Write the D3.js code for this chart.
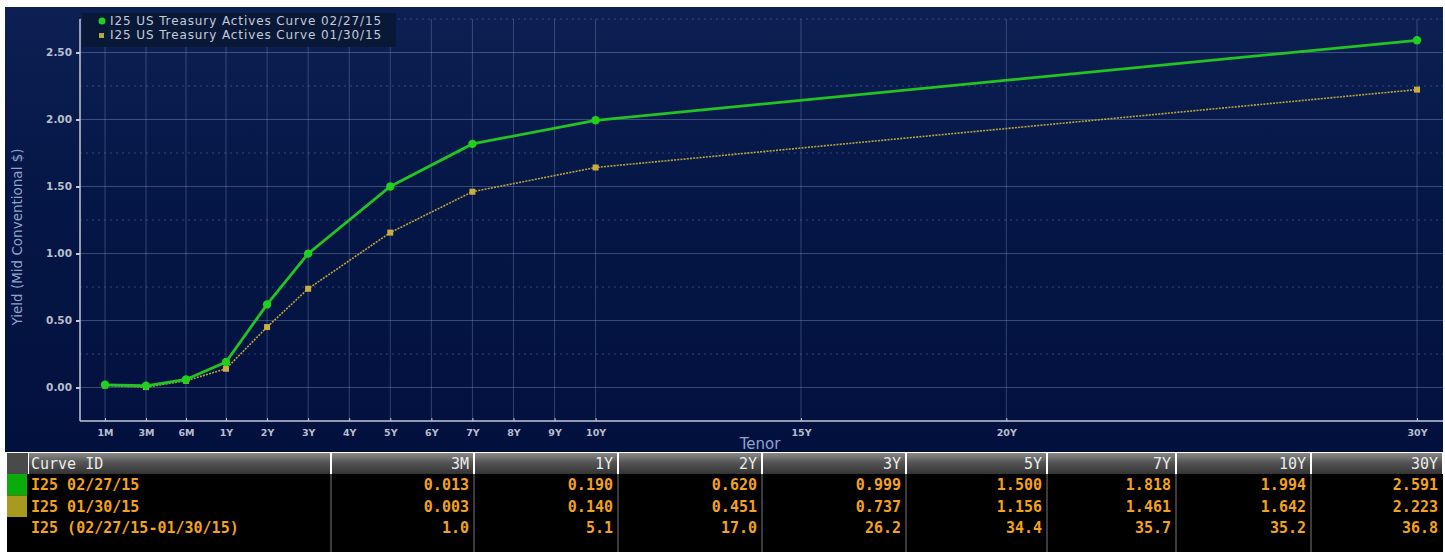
<!DOCTYPE html>
<html>
<head>
<meta charset="utf-8">
<script src="https://cdn.jsdelivr.net/npm/d3@7"></script>
<style>
body{margin:0;background:#fff;}
svg{display:block;}
</style>
</head>
<body>
<svg id="chart"></svg>
<script>
// tenor axis
const tenorLabels=["1M","3M","6M","1Y","2Y","3Y","4Y","5Y","6Y","7Y","8Y","9Y","10Y","15Y","20Y","30Y"];
const tenorYears=[1/12,0.25,0.5,1,2,3,4,5,6,7,8,9,10,15,20,30];
const yTicks=[0,0.5,1,1.5,2,2.5];

// curves (1M and 6M)
const curveTenors=[1/12,0.25,0.5,1,2,3,5,7,10,30];
const curveFeb=[0.020,0.013,0.060,0.190,0.620,0.999,1.500,1.818,1.994,2.591];
const curveJan=[0.015,0.003,0.050,0.140,0.451,0.737,1.156,1.461,1.642,2.223];
const legendNames=["I25 US Treasury Actives Curve 02/27/15","I25 US Treasury Actives Curve 01/30/15"];

// table below the chart
const tableCols=["3M","1Y","2Y","3Y","5Y","7Y","10Y","30Y"];
const rowNames=["I25 02/27/15","I25 01/30/15","I25 (02/27/15-01/30/15)"];
const rowFeb=["0.013","0.190","0.620","0.999","1.500","1.818","1.994","2.591"];
const rowJan=["0.003","0.140","0.451","0.737","1.156","1.461","1.642","2.223"];
const rowChg=["1.0","5.1","17.0","26.2","34.4","35.7","35.2","36.8"];

const width=1445, height=552;
const panel={x0:5, x1:1443, y0:7, y1:452};
const plot={left:80, right:1443, top:19, bottom:421};
const colEdges=[28,331,474,618,762,906,1047,1176,1311,1443]; // table column borders
const green="#22c322", olive="#bba53a";

const svg=d3.select("#chart").attr("width",width).attr("height",height);
const defs=svg.append("defs");

let bg=defs.append("linearGradient").attr("id","bg").attr("x1",0).attr("y1",0).attr("x2",0).attr("y2",1);
bg.append("stop").attr("offset","0").attr("stop-color","#0c2053");
bg.append("stop").attr("offset","0.4").attr("stop-color","#051747");
bg.append("stop").attr("offset","1").attr("stop-color","#02103e");

let hd=defs.append("linearGradient").attr("id","hd").attr("x1",0).attr("y1",0).attr("x2",0).attr("y2",1);
hd.append("stop").attr("offset","0").attr("stop-color","#8a8a8a");
hd.append("stop").attr("offset","0.45").attr("stop-color","#555");
hd.append("stop").attr("offset","1").attr("stop-color","#343434");

svg.append("rect")
	.attr("x",panel.x0).attr("y",panel.y0)
	.attr("width",panel.x1-panel.x0).attr("height",panel.y1-panel.y0)
	.attr("fill","url(#bg)");

// scales: the short end (1M,3M,6M) sits on equal steps before 1Y
const xScale=d3.scaleLinear()
	.domain([1/12,0.25,0.5,1,30])
	.range([105,146,186,226,1417]);
const yScale=d3.scaleLinear()
	.domain([-0.25,2.75])
	.range([plot.bottom,plot.top]);

// grid
const yGrid=d3.range(-0.25,2.76,0.25).map(d=>+d.toFixed(2));
svg.append("g").selectAll("line")
	.data(yGrid.filter(d=>d>-0.25))
	.join("line")
	.attr("x1",plot.left).attr("x2",plot.right)
	.attr("y1",d=>yScale(d)).attr("y2",d=>yScale(d))
	.attr("stroke","#8a9cc8")
	.attr("stroke-opacity",d=>(Math.round(d*100)%50===0)?0.4:0.35)
	.attr("stroke-dasharray",d=>(Math.round(d*100)%50===0)?null:"2,4");

svg.append("g").selectAll("line")
	.data(tenorYears)
	.join("line")
	.attr("x1",d=>xScale(d)).attr("x2",d=>xScale(d))
	.attr("y1",plot.top).attr("y2",plot.bottom)
	.attr("stroke","#8a9cc8").attr("stroke-opacity",0.35);

// axes
const axisColor="#c3c9d6";
const yAxis=d3.axisLeft(yScale).tickValues(yTicks).tickFormat(d3.format(".2f")).tickSize(4).tickPadding(4);
const gy=svg.append("g").attr("transform",`translate(${plot.left},0)`).call(yAxis);
gy.select(".domain").attr("d",`M0,${plot.top}V${plot.bottom}`).attr("stroke",axisColor).attr("stroke-width",1.5);
gy.selectAll(".tick line").attr("stroke",axisColor).attr("stroke-width",2);
gy.selectAll(".tick text").attr("fill","#b8bfcd").style("font","bold 10.5px 'DejaVu Sans'");

const xAxis=d3.axisBottom(xScale).tickValues(tenorYears)
	.tickFormat((d,i)=>tenorLabels[i]).tickSize(-3).tickPadding(8);
const gx=svg.append("g").attr("transform",`translate(0,${plot.bottom})`).call(xAxis);
gx.select(".domain").attr("d",`M${plot.left},0H${plot.right}`).attr("stroke",axisColor).attr("stroke-width",1.5);
gx.selectAll(".tick line").attr("stroke",axisColor);
gx.selectAll(".tick text").attr("fill","#b8bfcd").style("font","bold 9.5px 'DejaVu Sans'");

svg.append("text")
	.attr("x",760).attr("y",449)
	.attr("text-anchor","middle")
	.attr("fill","#8fa3cf")
	.style("font","15px 'DejaVu Sans'")
	.text("Tenor");

svg.append("text")
	.attr("transform","translate(22,237) rotate(-90)")
	.attr("text-anchor","middle")
	.attr("fill","#8fa3cf")
	.style("font","13.5px 'DejaVu Sans'")
	.text("Yield (Mid Conventional $)");

// curves
const line=d3.line().x(d=>xScale(d[0])).y(d=>yScale(d[1]));
const febPts=curveTenors.map((t,i)=>[t,curveFeb[i]]);
const janPts=curveTenors.map((t,i)=>[t,curveJan[i]]);

svg.append("path").datum(janPts)
	.attr("d",line).attr("fill","none")
	.attr("stroke",olive).attr("stroke-width",1.6).attr("stroke-dasharray","2,1.2");
svg.append("g").selectAll("rect").data(janPts).join("rect")
	.attr("x",d=>xScale(d[0])-3).attr("y",d=>yScale(d[1])-3)
	.attr("width",6).attr("height",6).attr("fill","#c9ad3e");

svg.append("path").datum(febPts)
	.attr("d",line).attr("fill","none")
	.attr("stroke",green).attr("stroke-width",2.8);
svg.append("g").selectAll("circle").data(febPts).join("circle")
	.attr("cx",d=>xScale(d[0])).attr("cy",d=>yScale(d[1]))
	.attr("r",4.2).attr("fill","#1fd01f");

// legend
const lg=svg.append("g");
lg.append("rect").attr("x",82).attr("y",13).attr("width",314).attr("height",34).attr("fill","#0a1838");
lg.append("circle").attr("cx",102).attr("cy",21).attr("r",3.5).attr("fill","#1fd01f");
lg.append("rect").attr("x",99).attr("y",33).attr("width",5).attr("height",5).attr("fill","#b9a548");
lg.selectAll("text").data(legendNames).join("text")
	.attr("x",110).attr("y",(d,i)=>25+i*14)
	.attr("fill","#c4cbd9")
	.style("font","12px 'DejaVu Sans'")
	.style("letter-spacing","0.9px")
	.text(d=>d);

// table
const tableTop=453, headH=21, rowH=21.5;
svg.append("rect").attr("x",7).attr("y",tableTop+headH).attr("width",panel.x1-7).attr("height",height-tableTop-headH).attr("fill","#000");
svg.append("rect").attr("x",7).attr("y",tableTop).attr("width",21).attr("height",headH).attr("fill","#4a4a4a");

const cells=colEdges.slice(0,-1).map((x,i)=>({x0:x,x1:colEdges[i+1],label:i===0?"Curve ID":tableCols[i-1]}));
svg.append("g").selectAll("rect").data(cells).join("rect")
	.attr("x",d=>d.x0+1).attr("y",tableTop)
	.attr("width",d=>d.x1-d.x0-2).attr("height",headH)
	.attr("fill","url(#hd)");
svg.append("g").selectAll("line").data(colEdges.slice(1,-1)).join("line")
	.attr("x1",d=>d).attr("x2",d=>d)
	.attr("y1",tableTop+headH).attr("y2",height)
	.attr("stroke","#3c3c3c").attr("stroke-width",2);

const tableFont="bold 15px 'DejaVu Sans Mono'";
svg.append("g").selectAll("text").data(cells).join("text")
	.attr("x",(d,i)=>i===0?d.x0+3:d.x1-5)
	.attr("y",tableTop+16)
	.attr("text-anchor",(d,i)=>i===0?"start":"end")
	.attr("fill","#ececec")
	.style("font","15px 'DejaVu Sans Mono'")
	.text(d=>d.label);

// colour swatches of the two curves
svg.append("rect").attr("x",7).attr("y",tableTop+headH).attr("width",20).attr("height",rowH).attr("fill","#0cab0c");
svg.append("rect").attr("x",7).attr("y",tableTop+headH+rowH).attr("width",20).attr("height",rowH).attr("fill","#a89a1e");

const rows=[rowFeb,rowJan,rowChg];
rows.forEach((vals,r)=>{
	let yy=tableTop+headH+rowH*r+16;
	svg.append("text")
		.attr("x",31).attr("y",yy)
		.attr("fill","#f3a21e")
		.style("font",tableFont)
		.text(rowNames[r]);
	svg.append("g").selectAll("text").data(vals).join("text")
		.attr("x",(d,i)=>colEdges[i+2]-5)
		.attr("y",yy)
		.attr("text-anchor","end")
		.attr("fill","#f3a21e")
		.style("font",tableFont)
		.text(d=>d);
});
</script>
</body>
</html>
